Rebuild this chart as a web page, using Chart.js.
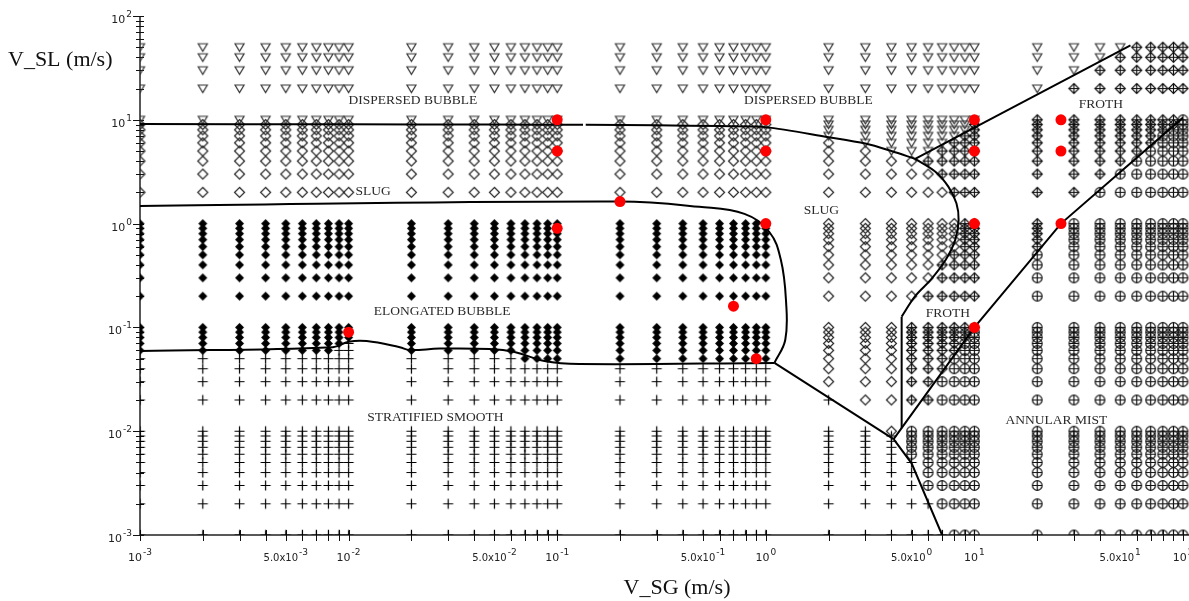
<!DOCTYPE html>
<html>
<head>
<meta charset="utf-8">
<title>Flow regime map</title>
<script src="https://cdn.jsdelivr.net/npm/chart.js@4.4.1/dist/chart.umd.min.js"></script>
<style>
  html, body { margin: 0; padding: 0; background: #fff; }
  canvas { display: block; }
</style>
</head>
<body>
<canvas id="flowMap" width="1189" height="601"></canvas>
<script>
// test grid (m/s)
const vsgValues = [0.001, 0.002, 0.003, 0.004, 0.005, 0.006, 0.007, 0.008, 0.009,
  0.01, 0.02, 0.03, 0.04, 0.05, 0.06, 0.07, 0.08, 0.09,
  0.1, 0.2, 0.3, 0.4, 0.5, 0.6, 0.7, 0.8, 0.9,
  1, 2, 3, 4, 5, 6, 7, 8, 9,
  10, 20, 30, 40, 50, 60, 70, 80, 90, 100];
const vslValues = [0.001, 0.002, 0.003, 0.004, 0.005, 0.006, 0.007, 0.008, 0.009,
  0.01, 0.02, 0.03, 0.04, 0.05, 0.06, 0.07, 0.08, 0.09,
  0.1, 0.2, 0.3, 0.4, 0.5, 0.6, 0.7, 0.8, 0.9,
  1, 2, 3, 4, 5, 6, 7, 8, 9,
  10, 20, 30, 40, 50];

// observed regime for each V_SG column, bottom row first (run lengths)
// T stratified smooth, E elongated bubble, S slug, D dispersed bubble, F froth, A annular mist
const regimeRuns = [
  "T14 E14 S8 D5", "T14 E14 S8 D5", "T14 E14 S8 D5", "T14 E14 S8 D5", "T14 E14 S8 D5",
  "T14 E14 S8 D5", "T14 E14 S8 D5", "T14 E14 S8 D5", "T15 E13 S8 D5",
  "T16 E12 S8 D5", "T14 E14 S8 D5", "T14 E14 S8 D5", "T14 E14 S8 D5", "T14 E14 S8 D5",
  "T14 E14 S8 D5", "T13 E15 S8 D5", "T13 E15 S8 D5", "T13 E15 S8 D5",
  "T13 E15 S8 D5", "T13 E15 S8 D5", "T13 E15 S8 D5", "T13 E15 S8 D5", "T13 E15 S8 D5",
  "T13 E15 S8 D5", "T13 E15 S8 D5", "T13 E15 S8 D5", "T13 E15 S8 D5",
  "T13 E15 S8 D5", "T11 S22 D8", "T10 S22 D9", "T9 S22 D10", "T5 A5 F9 S12 D10",
  "T2 A8 F10 S10 F1 D10", "T1 A11 F10 S7 F3 D9", "A14 F9 S5 F5 D8", "A16 F18 D7",
  "A18 F18 D5", "A23 F14 D4", "A28 F10 D3", "A29 F10 D2", "A30 F10 D1",
  "A31 F10", "A32 F9", "A34 F7", "A35 F6", "A37 F4"
];

// highlighted points
const redVsg = [0.1, 0.1, 0.1, 0.01, 0.2, 1, 1, 1, 0.7, 0.9, 10, 10, 10, 10, 26, 26, 26];
const redVsl = [10, 5, 0.9, 0.09, 1.63, 10, 5, 1, 0.16, 0.05, 10, 5, 1, 0.1, 10, 5, 1];

// transition boundaries [V_SG, V_SL]
const dispersedSlugLine = [[0.001, 9.1], [0.01, 9.05], [0.05, 9.0], [0.133, 8.95], [0.135, null],
  [0.137, 8.95], [0.3, 8.85], [0.6, 8.7], [1, 8.5], [2, 6.8], [3, 5.9], [4, 5.0], [5.2, 4.2]];
const dispersedFrothLine = [[5.2, 4.2], [56, 52]];
const slugFrothCurve = [[5.2, 4.2], [6.5, 3.16], [7.5, 2.27], [8.2, 1.57], [8.4, 1.08], [8.1, 0.7],
  [7.3, 0.45], [6.2, 0.29], [5.2, 0.2], [4.48, 0.127]];
const slugFrothVertical = [[4.48, 0.127], [4.48, 0.0107]];
const frothAnnularLine = [[4.1, 0.0084], [10, 0.1], [26, 1.0], [100, 10.5]];
const stratElongLine = [[0.001, 0.0593], [0.0084, 0.0644], [0.01, 0.0728], [0.0122, 0.0739],
  [0.0176, 0.0644], [0.0196, 0.0605], [0.0273, 0.0625], [0.0474, 0.0619], [0.0624, 0.058],
  [0.0868, 0.0475], [0.1277, 0.0444], [1.1, 0.0455]];
const elongSlugCurve = [[0.001, 1.48], [0.2, 1.63], [0.48, 1.45], [0.79, 1.24], [1.04, 0.83],
  [1.18, 0.45], [1.25, 0.18], [1.24, 0.076], [1.1, 0.0455]];
const stratSlugLine = [[1.1, 0.0455], [4.1, 0.0084]];
const stratAnnularLine = [[4.1, 0.0084], [5.0, 0.0049], [7.0, 0.001]];

// axis tick labels
const xTickVals = [0.001, 0.005, 0.01, 0.05, 0.1, 0.5, 1, 5, 10, 50, 100];
const xTickBase = ["10", "5.0x10", "10", "5.0x10", "10", "5.0x10", "10", "5.0x10", "10", "5.0x10", "10"];
const xTickExp = ["-3", "-3", "-2", "-2", "-1", "-1", "0", "0", "1", "1", "2"];
const yTickVals = [100, 10, 1, 0.1, 0.01, 0.001];
const yTickExp = ["2", "1", "0", "-1", "-2", "-3"];
const decades = [0.001, 0.01, 0.1, 1, 10];
const minorSteps = [1, 2, 3, 4, 5, 6, 7, 8, 9];

// region names, placed by left edge / vertical centre
const regionText = ["DISPERSED BUBBLE", "DISPERSED BUBBLE", "SLUG", "SLUG", "ELONGATED BUBBLE",
  "STRATIFIED SMOOTH", "FROTH", "FROTH", "ANNULAR MIST"];
const regionVsg = [0.0100, 0.787, 0.0108, 1.52, 0.0132, 0.0123, 31.6, 5.85, 14.1];
const regionVsl = [15.2, 15.2, 2.05, 1.33, 0.141, 0.0137, 14.2, 0.135, 0.0128];

// ---- markers ----
function markerCanvas(draw) {
  const c = document.createElement('canvas');
  c.width = 15; c.height = 15;
  const g = c.getContext('2d');
  g.translate(7.5, 7.5);
  g.lineWidth = 1.2;
  draw(g);
  return c;
}
function diamond(g, r) {
  g.beginPath();
  g.moveTo(0, -r); g.lineTo(r, 0); g.lineTo(0, r); g.lineTo(-r, 0);
  g.closePath();
}
const markers = {
  D: markerCanvas(g => {
    g.strokeStyle = '#333';
    g.beginPath();
    g.moveTo(-4.5, -3.5); g.lineTo(4.5, -3.5); g.lineTo(0, 4);
    g.closePath(); g.stroke();
  }),
  S: markerCanvas(g => { g.strokeStyle = '#222'; diamond(g, 5); g.stroke(); }),
  E: markerCanvas(g => { g.fillStyle = '#000'; diamond(g, 4.5); g.fill(); }),
  T: markerCanvas(g => {
    g.strokeStyle = '#000';
    g.beginPath();
    g.moveTo(-5, 0); g.lineTo(5, 0); g.moveTo(0, -5); g.lineTo(0, 5);
    g.stroke();
  }),
  F: markerCanvas(g => {
    g.strokeStyle = '#111';
    diamond(g, 5); g.stroke();
    g.beginPath();
    g.moveTo(-5, 0); g.lineTo(5, 0); g.moveTo(0, -5); g.lineTo(0, 5);
    g.stroke();
  }),
  A: markerCanvas(g => {
    g.strokeStyle = '#111';
    g.beginPath(); g.arc(0, 0, 4.8, 0, Math.PI * 2); g.stroke();
    g.beginPath();
    g.moveTo(-4.8, 0); g.lineTo(4.8, 0); g.moveTo(0, -4.8); g.lineTo(0, 4.8);
    g.stroke();
  })
};

// ---- build point sets from the observed grid ----
const regimePoints = { T: [], E: [], S: [], D: [], F: [], A: [] };
regimeRuns.forEach((runs, col) => {
  let row = 0;
  runs.split(' ').forEach(tok => {
    const code = tok[0];
    const n = parseInt(tok.slice(1), 10);
    for (let k = 0; k < n; k++) {
      regimePoints[code].push({ x: vsgValues[col], y: vslValues[row] });
      row++;
    }
  });
});

const toXY = arr => arr.map(p => ({ x: p[0], y: p[1] }));
const edgeClip = { left: 0, top: false, right: false, bottom: 0 };

const datasets = [];
datasets.push({
  label: 'highlighted',
  data: redVsg.map((v, i) => ({ x: v, y: redVsl[i] })),
  pointStyle: 'circle',
  pointRadius: 5.5,
  backgroundColor: '#ff0000',
  borderWidth: 0,
  order: 0
});

const boundaryDefs = [
  [dispersedSlugLine, 0.3], [dispersedFrothLine, 0], [slugFrothCurve, 0.35], [slugFrothVertical, 0],
  [frothAnnularLine, 0], [stratElongLine, 0.4], [elongSlugCurve, 0.4], [stratSlugLine, 0],
  [stratAnnularLine, 0]
];
boundaryDefs.forEach(([pts, tension]) => {
  datasets.push({
    data: toXY(pts),
    showLine: true,
    spanGaps: false,
    borderColor: '#000',
    borderWidth: 2,
    pointRadius: 0,
    tension: tension,
    fill: false,
    order: 1
  });
});

['D', 'S', 'E', 'T', 'F', 'A'].forEach(code => {
  datasets.push({
    label: code,
    data: regimePoints[code],
    pointStyle: markers[code],
    pointRadius: 5,
    clip: edgeClip,
    order: 2
  });
});

// ---- axes and text ----
function drawPower(ctx, base, exp, x, y, baseFont, align) {
  ctx.font = baseFont;
  const wb = ctx.measureText(base).width;
  ctx.font = '9px "DejaVu Sans"';
  const we = ctx.measureText(exp).width;
  const total = wb + 1 + we;
  let left = x - total / 2;
  if (align === 'right') left = x - total;
  ctx.textAlign = 'left';
  ctx.textBaseline = 'alphabetic';
  ctx.font = baseFont;
  ctx.fillText(base, left, y);
  ctx.font = '9px "DejaVu Sans"';
  ctx.fillText(exp, left + wb + 1, y - 6);
}

const axesPlugin = {
  id: 'axesPlugin',
  beforeDatasetsDraw(chart) {
    const { ctx, chartArea: a, scales: { x, y } } = chart;
    ctx.save();
    ctx.strokeStyle = '#222';
    ctx.lineWidth = 1.5;
    ctx.beginPath();
    ctx.moveTo(a.left, a.top);
    ctx.lineTo(a.left, a.bottom);
    ctx.lineTo(chart.width, a.bottom);
    ctx.stroke();

    ctx.lineWidth = 1;
    ctx.strokeStyle = '#111';
    ctx.beginPath();
    decades.concat([100]).forEach(d => {
      minorSteps.forEach(m => {
        const v = d * m;
        if (v > 100 + 1e-9) return;
        const px = Math.round(x.getPixelForValue(v)) + 0.5;
        ctx.moveTo(px, a.bottom - 5);
        ctx.lineTo(px, a.bottom + 6);
        const py = Math.round(y.getPixelForValue(v)) + 0.5;
        const major = m === 1;
        ctx.moveTo(a.left - (major ? 7 : 4), py);
        ctx.lineTo(a.left + 4, py);
      });
    });
    ctx.stroke();
    ctx.restore();
  },
  afterDatasetsDraw(chart) {
    const { ctx, chartArea: a, scales: { x, y } } = chart;
    ctx.save();
    ctx.fillStyle = '#222';
    xTickVals.forEach((v, i) => {
      const px = x.getPixelForValue(v);
      const font = xTickBase[i] === '10' ? '11px "DejaVu Sans"' : '10px "DejaVu Sans"';
      drawPower(ctx, xTickBase[i], xTickExp[i], px, 561, font, 'center');
    });
    yTickVals.forEach((v, i) => {
      const py = y.getPixelForValue(v);
      drawPower(ctx, '10', yTickExp[i], 132, py + 7, '11px "DejaVu Sans"', 'right');
    });

    ctx.fillStyle = '#2a2a2a';
    ctx.font = '13.5px "Liberation Serif"';
    ctx.textAlign = 'left';
    ctx.textBaseline = 'middle';
    regionText.forEach((t, i) => {
      ctx.fillText(t, x.getPixelForValue(regionVsg[i]), y.getPixelForValue(regionVsl[i]));
    });

    ctx.fillStyle = '#111';
    ctx.font = '22px "Liberation Serif"';
    ctx.textBaseline = 'alphabetic';
    ctx.textAlign = 'left';
    ctx.fillText('V_SL (m/s)', 8, 66);
    ctx.textAlign = 'center';
    ctx.fillText('V_SG (m/s)', 677, 594);
    ctx.restore();
  }
};

new Chart(document.getElementById('flowMap'), {
  type: 'scatter',
  data: { datasets: datasets },
  options: {
    responsive: false,
    animation: false,
    events: [],
    layout: { padding: { left: 140, right: 4.5, top: 16, bottom: 66 } },
    scales: {
      x: { type: 'logarithmic', min: 0.001, max: 100, display: false },
      y: { type: 'logarithmic', min: 0.001, max: 100, display: false }
    },
    plugins: {
      legend: { display: false },
      tooltip: { enabled: false }
    }
  },
  plugins: [axesPlugin]
});
</script>
</body>
</html>
